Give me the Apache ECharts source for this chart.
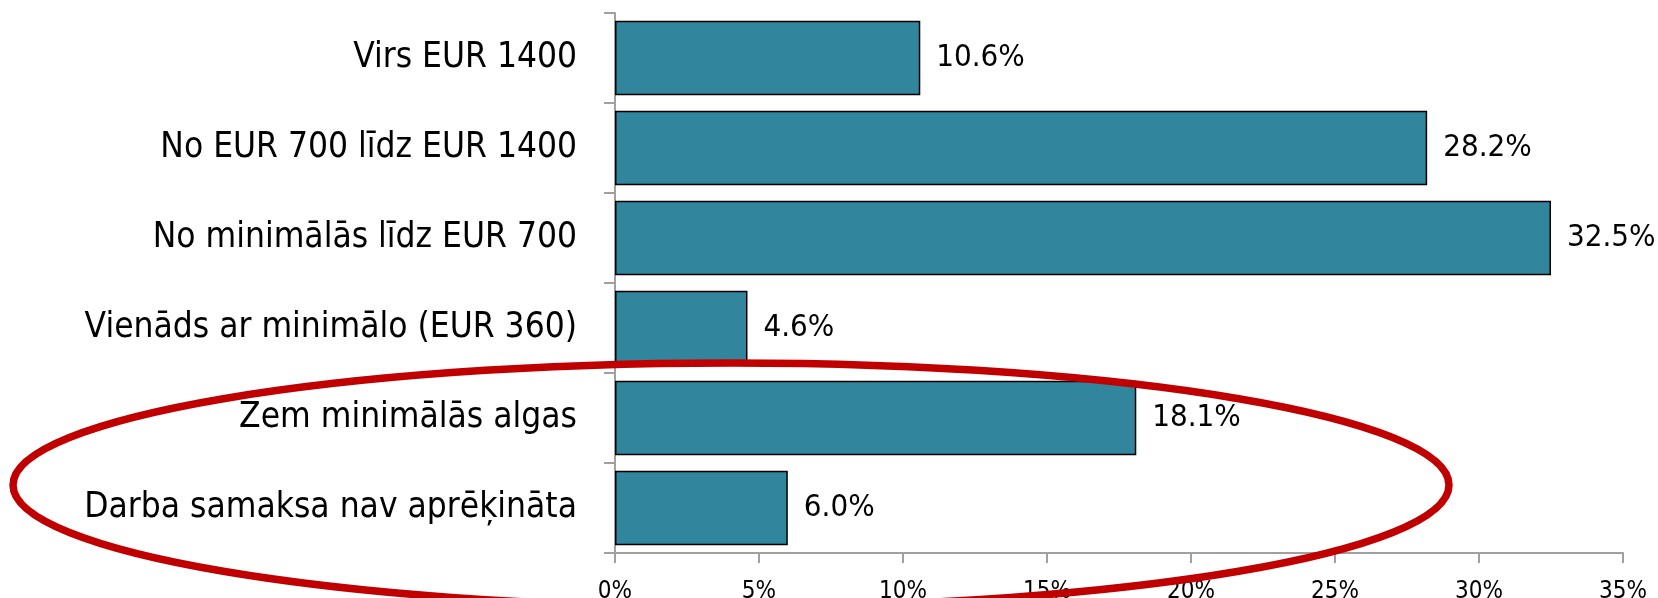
<!DOCTYPE html>
<html>
<head>
<meta charset="utf-8">
<script src="https://cdn.jsdelivr.net/npm/echarts@6/dist/echarts.min.js"></script>
<style>
  html, body { margin: 0; padding: 0; background: #fff; }
  #main { width: 1658px; height: 598px; }
</style>
</head>
<body>
<div id="main"></div>
<script>
// kategorijas (no augšas uz leju)
var categories = [
  'Virs EUR 1400',
  'No EUR 700 līdz EUR 1400',
  'No minimālās līdz EUR 700',
  'Vienāds ar minimālo (EUR 360)',
  'Zem minimālās algas',
  'Darba samaksa nav aprēķināta'
];
var shares = [10.6, 28.2, 32.5, 4.6, 18.1, 6.0];
var tickValues = [0, 5, 10, 15, 20, 25, 30, 35];

var fontFam = '"Liberation Sans Narrow", "DejaVu Sans Condensed", "Liberation Sans", sans-serif';

var chart = echarts.init(document.getElementById('main'));
var option = {
  backgroundColor: '#ffffff',
  animation: false,
  grid: { left: 615, right: 35, top: 13, bottom: 45, outerBoundsMode: 'none', containLabel: false },
  xAxis: {
    type: 'value',
    min: tickValues[0],
    max: tickValues[tickValues.length - 1],
    interval: 5,
    axisLine: { show: true, lineStyle: { color: '#a0a0a0', width: 2 } },
    axisTick: { show: true, length: 10, lineStyle: { color: '#a0a0a0', width: 2 } },
    splitLine: { show: false },
    axisLabel: {
      margin: 27,
      fontFamily: fontFam,
      fontSize: 24,
      color: '#000',
      formatter: '{value}%'
    }
  },
  yAxis: {
    type: 'category',
    inverse: true,
    data: categories,
    axisLine: { show: true, lineStyle: { color: '#a0a0a0', width: 2 } },
    axisTick: { show: true, length: 11, lineStyle: { color: '#a0a0a0', width: 2 } },
    axisLabel: {
      margin: 38,
      fontFamily: fontFam,
      fontSize: 35,
      color: '#000'
    }
  },
  series: [{
    type: 'bar',
    data: shares,
    barCategoryGap: '17%',
    itemStyle: { color: '#31859c', borderColor: '#000', borderWidth: 1.5 },
    label: {
      show: true,
      position: 'right',
      distance: 16,
      fontFamily: fontFam,
      fontSize: 31,
      color: '#000',
      formatter: function (p) { return p.value.toFixed(1) + '%'; }
    }
  }],
  graphic: [{
    type: 'ellipse',
    z: 100,
    shape: { cx: 731, cy: 485, rx: 718, ry: 122 },
    style: { fill: null, stroke: '#c00000', lineWidth: 7.5 }
  }]
};
chart.setOption(option);
</script>
</body>
</html>
